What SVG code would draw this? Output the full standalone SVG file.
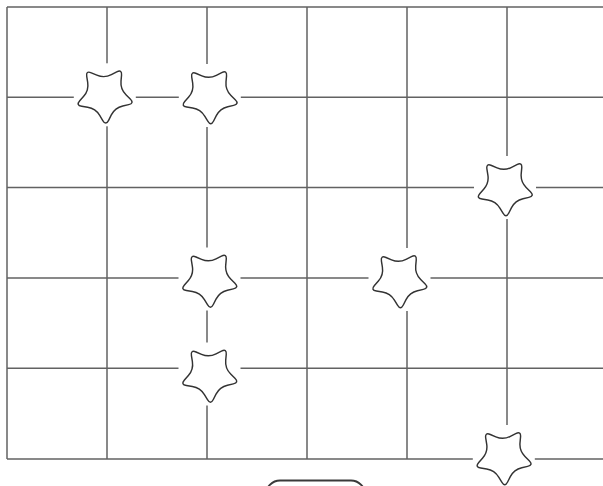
<svg xmlns="http://www.w3.org/2000/svg" width="603" height="486" viewBox="0 0 603 486">
<style>
.grid line{stroke:#626262;stroke-width:1.5;fill:none}
.mask{fill:#ffffff;stroke:none}
.star{fill:#ffffff;stroke:#333333;stroke-width:1.4;stroke-linejoin:round}
.box{fill:#ffffff;stroke:#3a3a3a;stroke-width:2}
</style>
<defs>
<path id="star" d="M2.82,24.88 L5.64,19.77 Q9.41,12.94 17.06,11.48 L22.79,10.37 Q28.53,9.27 24.54,5.01 L20.54,0.74 Q15.22,-4.94 16.18,-12.68 L16.91,-18.47 Q17.63,-24.27 12.34,-21.79 L7.05,-19.31 Q0,-16 -7.05,-19.31 L-12.35,-21.79 Q-17.63,-24.27 -16.91,-18.47 L-16.18,-12.67 Q-15.22,-4.94 -20.54,0.74 L-24.53,5.01 Q-28.53,9.27 -22.79,10.37 L-17.06,11.48 Q-9.41,12.95 -5.64,19.77 L-2.82,24.88 Q0,30 2.82,24.88 Z"/>
</defs>
<rect width="603" height="486" fill="#ffffff"/>
<g id="connectors" class="grid">
<line x1="7" y1="7" x2="7" y2="459"/>
<line x1="107" y1="7" x2="107" y2="459"/>
<line x1="207" y1="7" x2="207" y2="459"/>
<line x1="307" y1="7" x2="307" y2="459"/>
<line x1="407" y1="7" x2="407" y2="459"/>
<line x1="507" y1="7" x2="507" y2="459"/>
<line x1="7" y1="7" x2="603" y2="7"/>
<line x1="7" y1="97.3" x2="603" y2="97.3"/>
<line x1="7" y1="187.5" x2="603" y2="187.5"/>
<line x1="7" y1="278" x2="603" y2="278"/>
<line x1="7" y1="368.3" x2="603" y2="368.3"/>
<line x1="7" y1="459" x2="603" y2="459"/>
</g>
<g id="star1" transform="translate(104.8,94.8)">
<rect class="mask" x="-31" y="-31.5" width="62" height="63"/>
<use href="#star" class="star" transform="rotate(-2) scale(1.03)"/>
</g>
<g id="star2" transform="translate(209.8,95.5)">
<rect class="mask" x="-31" y="-31.5" width="62" height="63"/>
<use href="#star" class="star" transform="rotate(-2) scale(1.03)"/>
</g>
<g id="star3" transform="translate(505,187.5)">
<rect class="mask" x="-31" y="-31.5" width="62" height="63"/>
<use href="#star" class="star" transform="rotate(-2) scale(1.03)"/>
</g>
<g id="star4" transform="translate(209.5,279)">
<rect class="mask" x="-31" y="-31.5" width="62" height="63"/>
<use href="#star" class="star" transform="rotate(-2) scale(1.03)"/>
</g>
<g id="star5" transform="translate(399.5,279.5)">
<rect class="mask" x="-31" y="-31.5" width="62" height="63"/>
<use href="#star" class="star" transform="rotate(-2) scale(1.03)"/>
</g>
<g id="star6" transform="translate(209.5,374)">
<rect class="mask" x="-31" y="-31.5" width="62" height="63"/>
<use href="#star" class="star" transform="rotate(-2) scale(1.03)"/>
</g>
<g id="star7" transform="translate(503.8,456.5)">
<rect class="mask" x="-31" y="-31.5" width="62" height="63"/>
<use href="#star" class="star" transform="rotate(-2) scale(1.03)"/>
</g>
<g id="bottom-box">
<rect class="box" x="266" y="480.5" width="99" height="30" rx="14"/>
</g>
</svg>
